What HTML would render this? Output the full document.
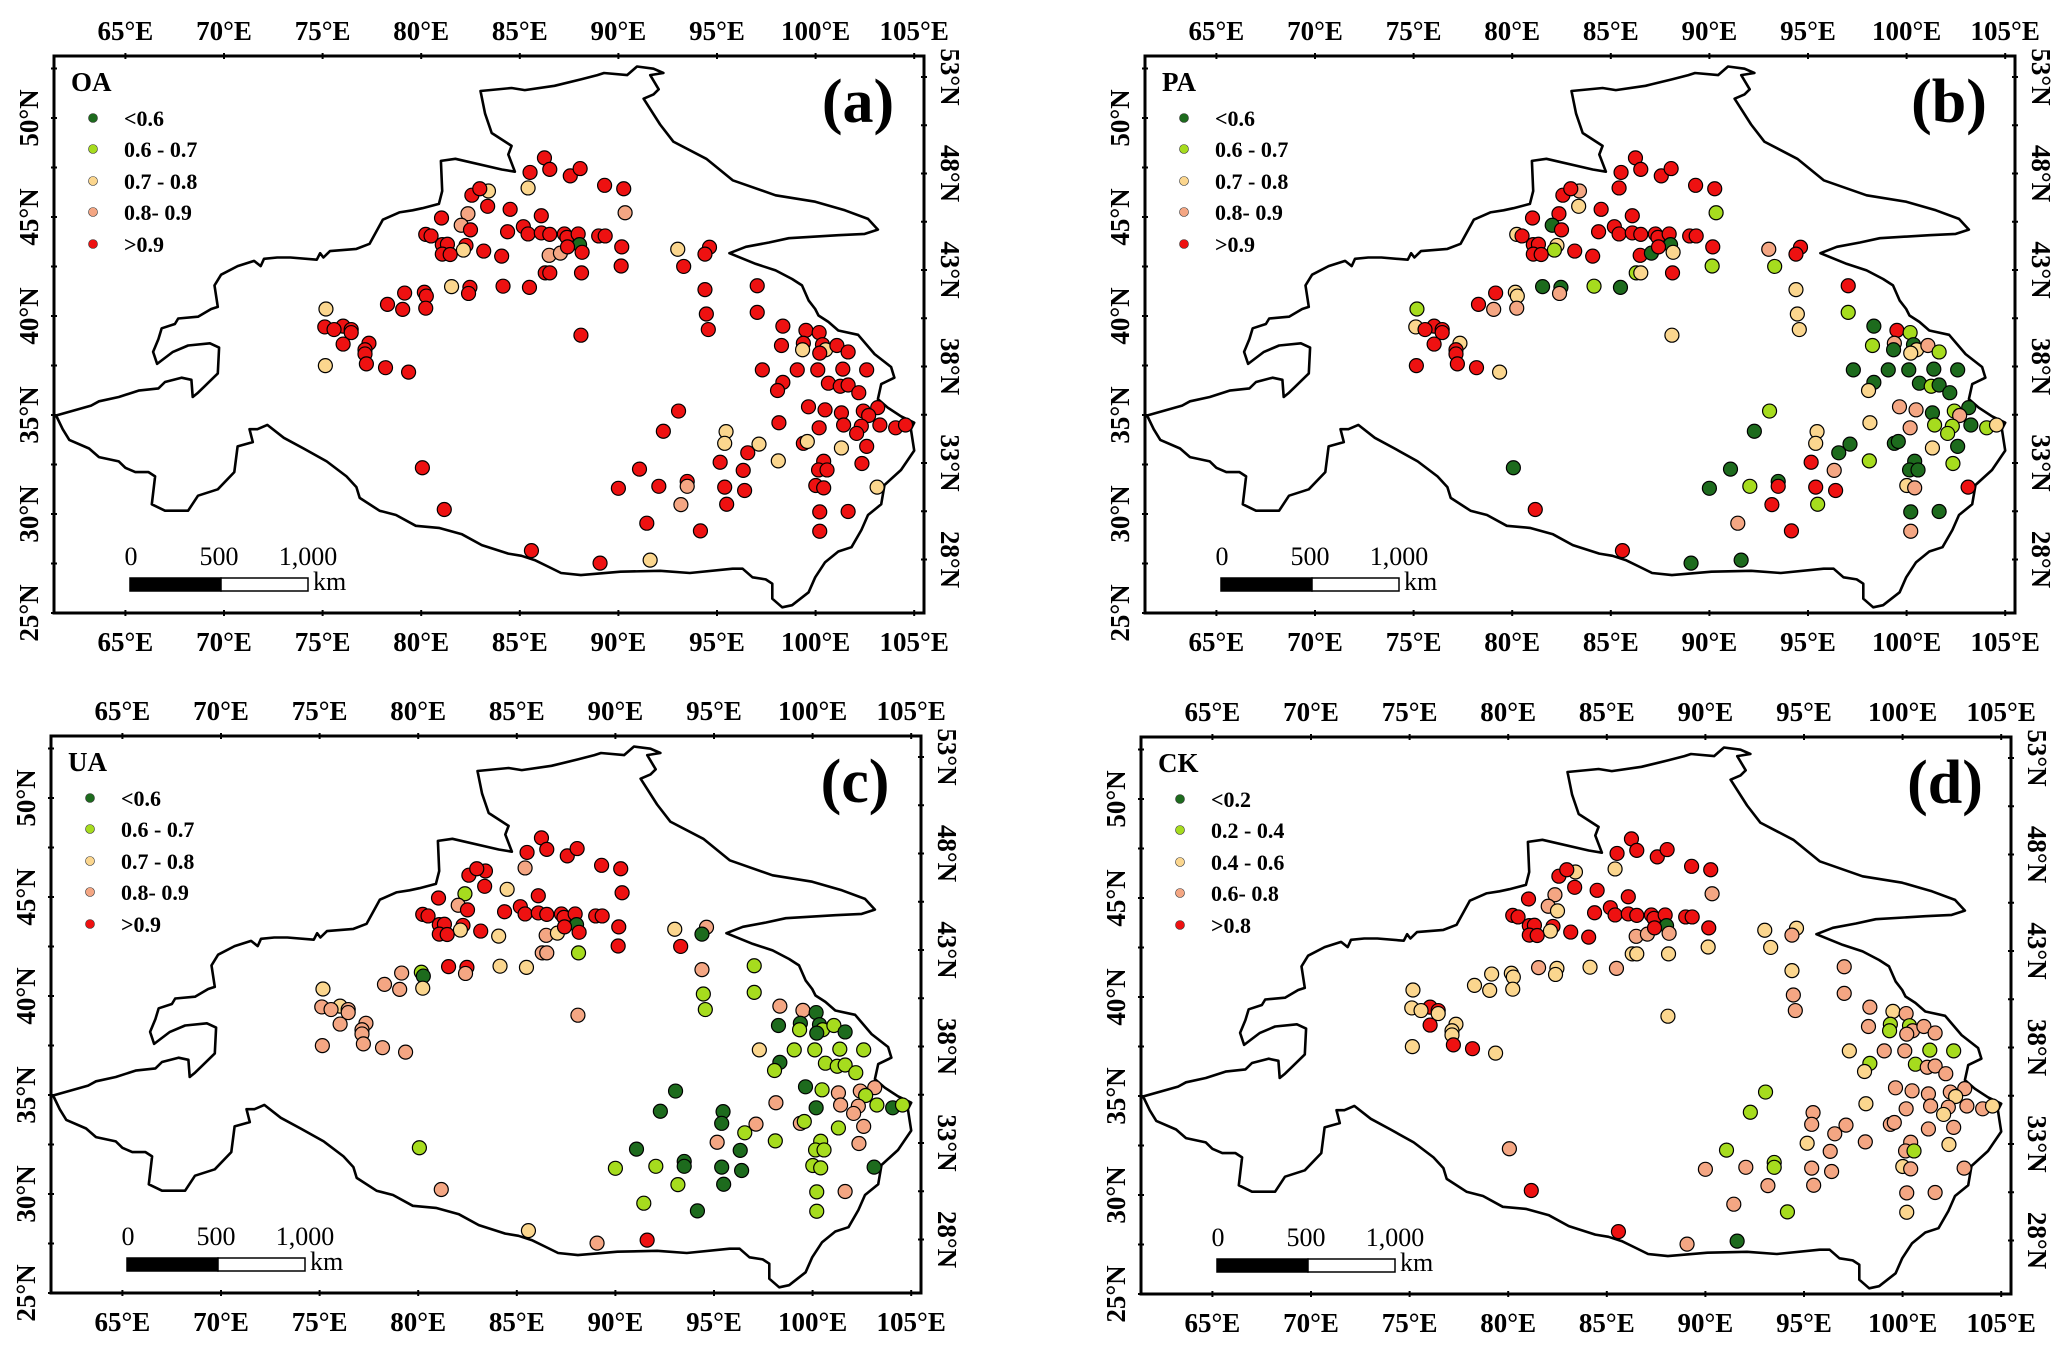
<!DOCTYPE html>
<html><head><meta charset="utf-8"><style>
html,body{margin:0;padding:0;background:#fff;}
svg{display:block;}
text{font-family:"Liberation Serif",serif;}
</style></head><body>
<svg id="fig" width="2067" height="1349" viewBox="0 0 2067 1349" xmlns="http://www.w3.org/2000/svg"></svg>
<script>
const stationLon=[86.25,85.52,86.52,87.56,88.06,89.30,90.27,83.41,85.42,82.57,82.97,83.37,84.51,90.34,81.03,82.37,82.03,82.50,84.38,85.18,85.42,86.09,86.09,86.52,87.26,87.39,87.96,88.03,89.00,89.33,80.23,80.50,81.07,81.33,82.27,82.14,81.07,81.47,83.17,84.08,86.49,87.06,87.42,88.16,90.17,93.01,94.62,94.39,93.31,90.14,86.29,86.52,88.13,81.54,82.47,82.40,84.15,85.49,94.39,79.16,80.16,80.26,80.23,78.29,79.06,75.17,75.11,76.04,75.58,76.45,76.45,76.04,77.35,77.15,77.15,77.22,78.19,79.36,75.14,88.10,94.46,94.56,97.04,97.04,98.34,99.51,100.18,98.27,99.38,99.34,100.35,100.51,101.08,101.65,100.21,97.30,99.07,100.11,101.38,102.59,98.34,98.07,100.65,101.25,101.65,102.19,99.64,100.48,101.31,102.42,103.15,102.69,98.14,100.18,101.42,102.32,102.08,103.26,104.06,104.56,93.05,92.28,95.46,95.39,97.13,96.56,95.16,96.33,98.11,99.38,99.58,101.31,102.59,100.41,100.15,100.58,102.35,100.01,100.41,103.12,91.07,90.00,92.05,93.49,93.49,95.39,96.40,95.49,93.17,100.21,101.65,100.21,80.06,81.17,91.44,94.16,85.59,89.07,91.61];
const stationLat=[48.13,47.41,47.56,47.24,47.60,46.77,46.60,46.49,46.64,46.28,46.60,45.73,45.58,45.41,45.15,45.36,44.79,44.56,44.47,44.72,44.36,45.26,44.41,44.34,44.36,44.19,44.36,43.83,44.26,44.26,44.34,44.26,43.83,43.85,43.79,43.56,43.36,43.34,43.51,43.26,43.30,43.41,43.72,43.45,43.72,43.60,43.70,43.36,42.75,42.77,42.43,42.43,42.43,41.75,41.71,41.41,41.77,41.71,41.60,41.43,41.47,41.28,40.68,40.87,40.62,40.64,39.75,39.79,39.62,39.62,39.47,38.90,38.94,38.62,38.41,37.92,37.73,37.51,37.83,39.34,40.39,39.62,41.79,40.47,39.79,39.58,39.47,38.83,38.94,38.62,38.87,38.62,38.83,38.51,38.45,37.62,37.62,37.62,37.66,37.62,37.00,36.60,36.96,36.81,36.87,36.49,35.79,35.64,35.49,35.58,35.75,35.36,35.00,34.75,34.89,34.83,34.47,34.89,34.75,34.89,35.58,34.58,34.56,33.98,33.94,33.51,33.04,32.64,33.11,33.98,34.07,33.75,33.83,33.09,32.66,32.66,32.98,31.89,31.77,31.81,32.70,31.75,31.85,32.09,31.85,31.81,31.64,30.96,30.94,30.58,30.60,29.62,32.77,30.70,30.02,29.64,28.66,28.04,28.19];
const classOA=("4444444224"+"4443433444"+"4444444044"+"4444424444"+"3344424444"+"4442444444"+"4444424444"+"4444444424"+"4444444442"+"4244444444"+"4444444444"+"4444444444"+"4422244424"+"2244444442"+"4444344434"+"444444442").split("").map(Number);
const classPA=("4444444344"+"4241440444"+"4444444044"+"2444214444"+"4042434411"+"1240031024"+"2234312444"+"4424444242"+"2241041130"+"0231200000"+"0201003301"+"0323111012"+"1022004310"+"0200001234"+"0010444140"+"030434400").split("").map(Number);
const classUA=("4444444434"+"4424413444"+"4444444044"+"4444424442"+"3244423044"+"3314432233"+"1023323233"+"3333333333"+"1111330001"+"0110021111"+"0111110133"+"3130333101"+"0000313013"+"1131113110"+"0110000011"+"311310234").split("").map(Number);
const classCK=("4444444224"+"4443433244"+"4444444044"+"4444424444"+"3343422322"+"2223222322"+"2222222424"+"2422244222"+"3333323311"+"1333323311"+"1213333333"+"3223332332"+"1133332333"+"3333312233"+"1331133333"+"323431430").split("").map(Number);
const lonTicks=[65,70,75,80,85,90,95,100,105];
const latTicksLeft=[50,45,40,35,30,25];
const latTicksRight=[53,48,43,38,33,28];
const legendAcc=["<0.6","0.6 - 0.7","0.7 - 0.8","0.8- 0.9",">0.9"];
const legendCK=["<0.2","0.2 - 0.4","0.4 - 0.6","0.6- 0.8",">0.8"];
const colors=["#1d6b1d","#a6dc1e","#fbd68e","#f4a683","#ee1111"];

const NS="http://www.w3.org/2000/svg";
const fig=document.getElementById('fig');
function mk(tag,attrs,parent){const e=document.createElementNS(NS,tag);for(const k in attrs)e.setAttribute(k,attrs[k]);parent.appendChild(e);return e;}
const ZX=1.515, ZY=2.33;
function xS(lon){return (190+(lon-65)*29.875)/ZX;}
function yS(lat){return (280+(50-lat)*47)/ZY;}
function yL(lat){return 118+(50-lat)*19.8;}
function yR(lat){return 77+(53-lat)*19.3;}
const outlineZ=[[85,968],[138,945],[150,935],[180,925],[210,910],[240,905],[250,890],[275,880],[290,885],[292,925],[300,915],[310,900],[330,870],[332,810],[318,800],[285,805],[262,820],[238,848],[232,820],[240,790],[245,765],[265,755],[270,742],[300,738],[320,720],[330,715],[325,665],[335,640],[360,620],[385,608],[395,620],[400,603],[420,600],[440,600],[480,605],[485,590],[490,600],[500,585],[540,580],[560,568],[580,512],[605,495],[625,490],[640,485],[665,475],[670,445],[668,375],[690,370],[760,395],[780,400],[770,360],[775,340],[745,310],[735,265],[728,212],[775,205],[795,210],[840,200],[880,185],[905,175],[915,170],[950,175],[965,155],[990,160],[1005,170],[985,175],[998,208],[990,220],[975,230],[1000,290],[1020,330],[1070,370],[1110,420],[1175,455],[1235,470],[1280,490],[1315,510],[1330,535],[1310,545],[1270,548],[1195,555],[1165,565],[1130,575],[1105,590],[1145,615],[1175,630],[1200,650],[1215,665],[1225,700],[1235,720],[1240,735],[1255,750],[1270,770],[1300,780],[1325,825],[1350,855],[1355,880],[1335,895],[1330,930],[1345,950],[1365,970],[1385,985],[1380,1000],[1385,1050],[1365,1095],[1340,1130],[1335,1175],[1315,1200],[1305,1235],[1290,1275],[1270,1285],[1250,1310],[1235,1345],[1225,1380],[1200,1410],[1185,1415],[1170,1395],[1170,1360],[1160,1350],[1140,1345],[1125,1325],[1110,1325],[1045,1335],[1000,1330],[940,1332],[880,1340],[850,1335],[830,1320],[810,1305],[790,1295],[770,1290],[730,1270],[700,1245],[665,1230],[630,1225],[600,1200],[575,1190],[545,1160],[540,1135],[525,1110],[495,1075],[460,1045],[430,1020],[405,990],[390,1000],[378,1000],[383,1030],[360,1040],[355,1100],[330,1140],[300,1155],[285,1190],[250,1190],[230,1175],[235,1110],[225,1100],[205,1100],[190,1090],[180,1075],[150,1065],[135,1045],[105,1025],[95,1000]];

const panels=[
 {key:"a",title:"OA",cls:classOA,leg:legendAcc,ox:0,oy:0},
 {key:"b",title:"PA",cls:classPA,leg:legendAcc,ox:1091,oy:0},
 {key:"c",title:"UA",cls:classUA,leg:legendAcc,ox:-3,oy:680},
 {key:"d",title:"CK",cls:classCK,leg:legendCK,ox:1087,oy:681}
];
const FL=54,FT=56,FR=924,FB=613;
panels.forEach(p=>{
 const g=mk('g',{transform:`translate(${p.ox},${p.oy})`},fig);
 
 
 const fr=mk('rect',{x:FL,y:FT,width:FR-FL,height:FB-FT,fill:'#fff',stroke:'#000','stroke-width':3},g);
 
 
 const d=outlineZ.map((q,i)=>(i?'L':'M')+(q[0]/ZX).toFixed(1)+' '+(q[1]/ZY).toFixed(1)).join(' ')+'Z';
 const ol=mk('path',{d:d,fill:'none',stroke:'#000','stroke-width':2.6,'stroke-linejoin':'round'},g);
 
 
 lonTicks.forEach(v=>{
  const x=xS(v);
  [FT,FB].forEach(yy=>{
   const tk=mk('line',{x1:x,x2:x,y1:yy-3,y2:yy+3,stroke:'#000','stroke-width':2},g);
   
   
  });
  [40,651].forEach((yy,k)=>{
   const t=mk('text',{x:x,y:yy,'text-anchor':'middle','font-size':27,'font-weight':'bold'},g);
   t.textContent=v+'°E';
   
   
  });
 });
 for(let lat=52.5;lat>=25;lat-=2.5){
  const tk=mk('line',{x1:FL-3,x2:FL+3,y1:yL(lat),y2:yL(lat),stroke:'#000','stroke-width':2},g);
  
  
 }
 for(let lat=53;lat>=28;lat-=2.5){
  const tk=mk('line',{x1:FR-3,x2:FR+3,y1:yR(lat),y2:yR(lat),stroke:'#000','stroke-width':2},g);
  
  
 }
 latTicksLeft.forEach(v=>{
  const t=mk('text',{x:0,y:0,transform:`translate(38,${yL(v)}) rotate(-90)`,'text-anchor':'middle','font-size':27,'font-weight':'bold'},g);
  t.textContent=v+'°N';
  
  
 });
 latTicksRight.forEach(v=>{
  const t=mk('text',{x:0,y:0,transform:`translate(941,${yR(v)}) rotate(90)`,'text-anchor':'middle','font-size':27,'font-weight':'bold'},g);
  t.textContent=v+'°N';
  
  
 });
 const tt=mk('text',{x:71,y:91,'font-size':27,'font-weight':'bold'},g);
 tt.textContent=p.title;
 
 
 const lyy=[118,149,181,212,244];
 p.leg.forEach((lab,i)=>{
  const c=mk('circle',{cx:93,cy:lyy[i],r:4.5,fill:colors[i],stroke:'#333','stroke-width':0.6},g);
  
  
  const t=mk('text',{x:124,y:lyy[i]+8,'font-size':22,'font-weight':'bold'},g);
  t.textContent=lab;
  
  
 });
 const pl=mk('text',{x:858,y:122,'text-anchor':'middle','font-size':62,'font-weight':'bold'},g);
 pl.textContent='('+p.key+')';
 
 
 [['0',131],['500',219],['1,000',308]].forEach(s=>{
  const t=mk('text',{x:s[1],y:565,'text-anchor':'middle','font-size':26},g);
  t.textContent=s[0];
  
  
 });
 const sb1=mk('rect',{x:130,y:578,width:91,height:13,fill:'#000',stroke:'#000','stroke-width':1.5},g);
 
 
 const sb2=mk('rect',{x:221,y:578,width:87,height:13,fill:'#fff',stroke:'#000','stroke-width':1.5},g);
 
 
 const km=mk('text',{x:313,y:590,'font-size':26},g);
 km.textContent='km';
 
 
 stationLon.forEach((lon,i)=>{
  const c=mk('circle',{cx:xS(lon),cy:yS(stationLat[i]),r:7,fill:colors[p.cls[i]],stroke:'#000','stroke-width':1.2},g);
  
  
 });
});
</script>
</body></html>
